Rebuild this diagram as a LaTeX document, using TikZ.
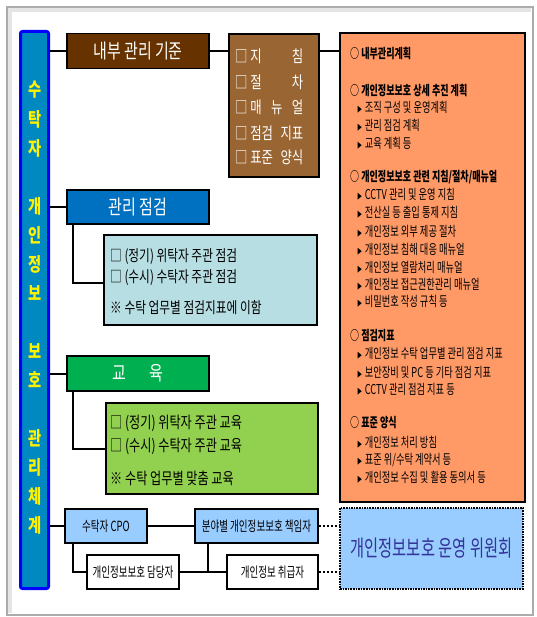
\documentclass[tikz,border=0pt]{standalone}
\usepackage{fontspec}
\setmainfont{Noto Sans CJK KR}[FakeStretch=0.75]
\newfontfamily\nar{Noto Sans CJK KR}[FakeStretch=0.68]
\usetikzlibrary{calc}
\newcommand\fsz[1]{\fontsize{#1}{#1}\selectfont}
\newcommand\tri{{\fsz{7.5}▶}\hspace{2.5pt}}
\definecolor{barfill}{RGB}{0,136,192}
\definecolor{nbrown}{RGB}{102,51,0}
\definecolor{lbrown}{RGB}{153,102,51}
\definecolor{orfill}{RGB}{255,153,102}
\definecolor{gjfill}{RGB}{0,112,192}
\definecolor{lbfill}{RGB}{183,222,226}
\definecolor{edfill}{RGB}{0,176,80}
\definecolor{grfill}{RGB}{146,208,80}
\definecolor{skyfill}{RGB}{153,204,255}
\definecolor{cmtext}{RGB}{51,51,153}
\begin{document}
\begin{tikzpicture}[x=1pt,y=-1pt,
  conn/.style={line width=2pt, black},
  dconn/.style={line width=2.5pt, black, dash pattern=on 2.5pt off 1.5pt},
  hbox/.style={draw=black, line width=1.6pt, text=white, font=\fsz{20}, minimum width=142pt, minimum height=35pt, inner sep=0pt},
  pbox/.style={draw=black, line width=1.6pt, inner sep=0pt},
  sbox/.style={draw=black, line width=1.6pt, inner sep=0pt, font=\nar\fsz{14}, minimum height=34pt},
  txt/.style={anchor=west, inner sep=0pt},
  otxt/.style={anchor=west, inner sep=0pt, font=\nar\fsz{13.6}},
  ohd/.style={anchor=west, inner sep=0pt, font=\nar\bfseries\fsz{13.3}},
  vch/.style={inner sep=0pt, text=yellow, font=\bfseries\fsz{19}}
]
\useasboundingbox (0,0) rectangle (536,617);
% outer frame
\fill[white] (7,7) rectangle (533,615);
\draw[gray!20, line width=4pt] (10,613) -- (10,10) -- (531,10);
\draw[gray!65, line width=1.2pt] (7,7) rectangle (533,615);

% left bar
\node[draw=blue, line width=3pt, fill=barfill, rounded corners=2pt, minimum width=28pt, minimum height=557pt, inner sep=0pt] (bar) at (34.5,310) {};
\foreach \ch/\yy [count=\i] in {수/90,탁/119,자/148,개/206,인/235,정/264,보/293,보/351,호/380,관/438,리/467,체/496,계/525}
  \node[vch] (v\i) at (35,\yy) {\ch};

% internal standard
\node[hbox, fill=nbrown] (nb) at (138,51) {내부 관리 기준};
\node[pbox, fill=lbrown, minimum width=90pt, minimum height=143pt] (bl) at (274,105.5) {};
\node[txt, text=white, font=\fsz{16.5}] (b1) at (235,56) {□ \makebox[53pt][s]{지\hfill 침}};
\node[txt, text=white, font=\fsz{16.5}] (b2) at (235,82) {□ \makebox[53pt][s]{절\hfill 차}};
\node[txt, text=white, font=\fsz{16.5}] (b3) at (235,107) {□ \makebox[53pt][s]{매\hfill 뉴\hfill 얼}};
\node[txt, text=white, font=\fsz{16.5}] (b4) at (235,133) {□ \makebox[53pt][s]{점검\hfill 지표}};
\node[txt, text=white, font=\fsz{16.5}] (b5) at (235,157) {□ \makebox[53pt][s]{표준\hfill 양식}};

% orange box
\node[pbox, line width=2.4pt, fill=orfill, minimum width=185pt, minimum height=469pt] (or) at (432.5,267.5) {};
\node[ohd] (o1) at (350,53) {○ 내부관리계획};
\node[ohd] (o2) at (350,90) {○ 개인정보보호 상세 추진 계획};
\node[otxt] (o3) at (357,107) {\tri 조직 구성 및 운영계획};
\node[otxt] (o4) at (357,125) {\tri 관리 점검 계획};
\node[otxt] (o5) at (357,143) {\tri 교육 계획 등};
\node[ohd] (o6) at (350,177) {○ 개인정보보호 관련 지침/절차/매뉴얼};
\node[otxt] (o7) at (357,194) {\tri CCTV 관리 및 운영 지침};
\node[otxt] (o8) at (357,212) {\tri 전산실 등 출입 통제 지침};
\node[otxt] (o9) at (357,231) {\tri 개인정보 외부 제공 절차};
\node[otxt] (o10) at (357,249) {\tri 개인정보 침해 대응 매뉴얼};
\node[otxt] (o11) at (357,267) {\tri 개인정보 열람처리 매뉴얼};
\node[otxt] (o12) at (357,284) {\tri 개인정보 접근권한관리 매뉴얼};
\node[otxt] (o13) at (357,301) {\tri 비밀번호 작성 규칙 등};
\node[ohd] (o14) at (350,336) {○ 점검지표};
\node[otxt] (o15) at (357,353) {\tri 개인정보 수탁 업무별 관리 점검 지표};
\node[otxt] (o16) at (357,372) {\tri 보안장비 및 PC 등 기타 점검 지표};
\node[otxt] (o17) at (357,389) {\tri CCTV 관리 점검 지표 등};
\node[ohd] (o18) at (350,423) {○ 표준 양식};
\node[otxt] (o19) at (357,442) {\tri 개인정보 처리 방침};
\node[otxt] (o20) at (357,460) {\tri 표준 위/수탁 계약서 등};
\node[otxt] (o21) at (357,477) {\tri 개인정보 수집 및 활용 동의서 등};

% inspection
\node[hbox, fill=gjfill, minimum height=34pt] (gj) at (138,207) {관리 점검};
\node[pbox, fill=lbfill, minimum width=213pt, minimum height=90pt] (lb) at (210.5,280) {};
\node[txt, font=\fsz{15.6}] (l1) at (110,257) {□ (정기) 위탁자 주관 점검};
\node[txt, font=\fsz{15.6}] (l2) at (110,278) {□ (수시) 수탁자 주관 점검};
\node[txt, font=\fsz{15.6}] (l3) at (110,308) {※ 수탁 업무별 점검지표에 이함};

% education
\node[hbox, fill=edfill] (ed) at (138,373.5) {교\hspace{23pt}육};
\node[pbox, fill=grfill, minimum width=212pt, minimum height=91pt] (gr) at (212,448.5) {};
\node[txt, font=\fsz{16.2}] (g1) at (110,423) {□ (정기) 위탁자 주관 교육};
\node[txt, font=\fsz{16.2}] (g2) at (110,446) {□ (수시) 수탁자 주관 교육};
\node[txt, font=\fsz{16.2}] (g3) at (110,478) {※ 수탁 업무별 맞춤 교육};

% bottom row
\node[sbox, fill=skyfill, minimum width=82pt] (cpo) at (106,526) {수탁자 CPO};
\node[sbox, fill=skyfill, minimum width=123pt] (rs) at (256.5,526) {분야별 개인정보보호 책임자};
\node[sbox, fill=white, minimum width=92pt] (dd) at (133,572) {개인정보보호 담당자};
\node[sbox, fill=white, minimum width=91pt] (hd) at (272.5,572) {개인정보 취급자};
\node[draw=black, line width=1.6pt, dash pattern=on 1.6pt off 1pt, fill=skyfill, minimum width=183pt, minimum height=81pt, inner sep=0pt, text=cmtext, font=\nar\fsz{22.5}] (cm) at (431.5,548.5) {개인정보보호 운영 위원회};

% connectors
\draw[conn] (bar.east |- nb.west) -- (nb.west);
\draw[conn] (nb.east) -- (bl.west |- nb.east);
\draw[conn] (bl.east |- nb.east) -- (or.west |- nb.east);
\draw[conn] (bar.east |- gj.west) -- (gj.west);
\draw[conn] ([xshift=7pt]gj.south west) |- ([yshift=-3pt]lb.west);
\draw[conn] (bar.east |- ed.west) -- (ed.west);
\draw[conn] ([xshift=7pt]ed.south west) |- (gr.west);
\draw[conn] (bar.east |- cpo.west) -- (cpo.west);
\draw[conn] (cpo.east) -- (rs.west);
\draw[conn] ([xshift=9pt]cpo.south west) |- (dd.west);
\draw[conn] (dd.east) -- (hd.west);
\coordinate (rsb) at ([xshift=14pt]rs.south west);
\draw[conn] (rsb) -- (rsb |- dd.east);
\draw[dconn] (rs.east) -- (cm.west |- rs.east);
\draw[dconn] (hd.east) -- (cm.west |- hd.east);
\end{tikzpicture}
\end{document}
